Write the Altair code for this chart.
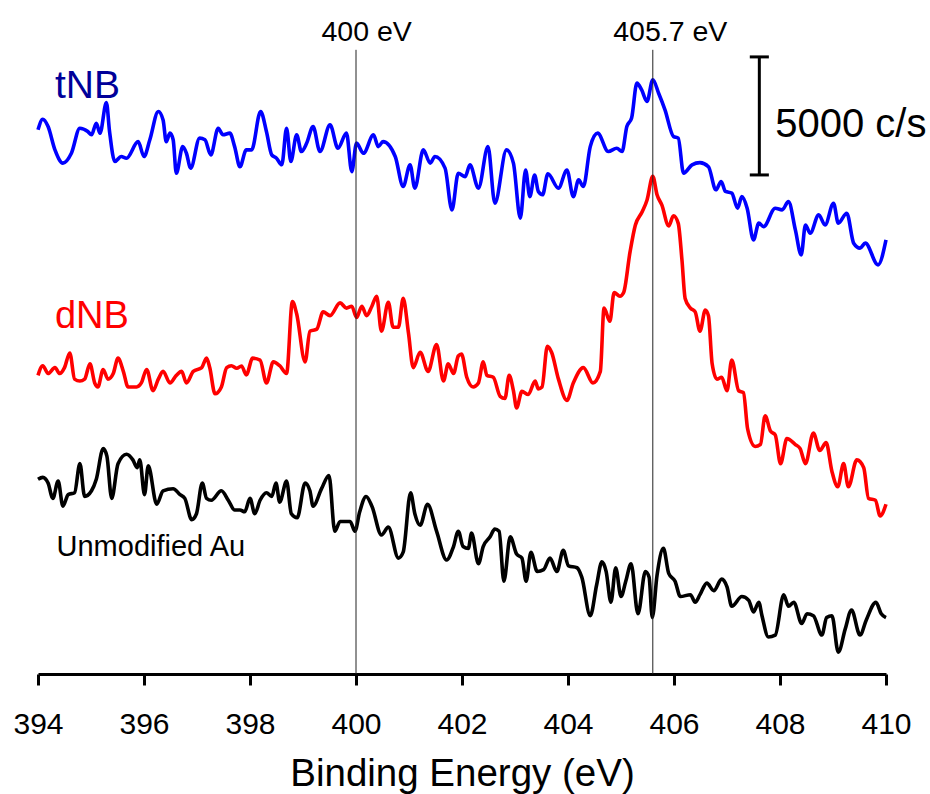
import altair as alt
import pandas as pd

# ---- data (binding energy in eV, intensity in c/s, stacked offsets) ----
tnb_ev = [394.00,394.09,394.19,394.32,394.47,394.63,394.79,394.94,395.01,395.10,
          395.17,395.29,395.35,395.45,395.57,395.67,395.89,396.00,396.11,396.27,
          396.36,396.42,396.49,396.55,396.61,396.73,396.80,396.88,397.05,397.15,
          397.26,397.40,397.49,397.62,397.71,397.81,397.93,398.03,398.20,398.31,
          398.41,398.50,398.60,398.69,398.77,398.88,398.97,399.07,399.19,399.32,
          399.51,399.66,399.82,399.92,400.01,400.14,400.33,400.42,400.51,400.74,
          400.89,401.02,401.11,401.27,401.40,401.49,401.68,401.81,401.93,402.06,
          402.15,402.31,402.49,402.62,402.84,402.97,403.10,403.20,403.28,403.37,
          403.44,403.52,403.62,403.82,403.98,404.10,404.20,404.29,404.42,404.56,
          404.76,404.92,405.02,405.11,405.20,405.30,405.39,405.49,405.60,405.71,
          405.83,405.99,406.08,406.18,406.34,406.49,406.65,406.79,406.89,406.97,
          407.09,407.20,407.28,407.38,407.50,407.60,407.69,407.91,408.04,408.16,
          408.29,408.40,408.48,408.57,408.73,408.85,409.01,409.10,409.26,409.39,
          409.51,409.61,409.85,410.00]
tnb_cps = [23050,23500,23190,22200,21640,22060,23120,22980,22840,23330,
           22910,24210,22980,21710,21920,21850,22550,21920,22630,23830,
           23470,22550,22910,22630,21210,22340,22060,21430,22700,22630,
           21990,23120,22840,22910,22340,21490,22200,22200,23830,22980,
           21990,21850,21570,23120,21710,22840,22130,22490,23190,22130,
           23260,22270,22910,21280,22490,22060,22840,22340,22550,21920,
           20650,21570,20580,22200,21640,21920,21430,19660,21210,21070,
           21570,20580,22340,19940,22200,21640,19310,21350,20220,21140,
           20440,20300,21190,20580,21350,20220,20930,20650,22340,22910,
           22130,22270,22130,23190,23550,25030,24740,24250,25170,24600,
           23900,22770,22700,21210,21570,21660,21490,20510,20860,20440,
           20370,19730,20220,19730,18390,19100,18950,19730,19660,20010,
           18810,17750,19020,18670,19450,19020,19940,19100,19520,18250,
           18040,18250,17330,18390]

dnb_ev = [394.00,394.09,394.19,394.32,394.41,394.50,394.60,394.69,394.79,394.88,
          394.98,395.07,395.13,395.23,395.32,395.42,395.51,395.61,395.70,395.86,
          395.95,396.05,396.17,396.27,396.36,396.49,396.61,396.71,396.80,396.93,
          397.09,397.18,397.24,397.34,397.46,397.56,397.65,397.75,397.84,397.93,
          398.05,398.19,398.31,398.44,398.56,398.69,398.80,398.88,399.04,399.13,
          399.26,399.38,399.51,399.70,399.82,399.92,400.01,400.11,400.20,400.30,
          400.39,400.48,400.61,400.70,400.80,400.89,400.99,401.08,401.21,401.36,
          401.52,401.65,401.74,401.84,401.93,401.99,402.09,402.21,402.31,402.40,
          402.47,402.59,402.72,402.81,402.89,402.97,403.03,403.13,403.25,403.38,
          403.44,403.51,403.61,403.69,403.82,403.98,404.10,404.29,404.47,404.61,
          404.68,404.79,404.87,404.98,405.05,405.17,405.27,405.40,405.49,405.60,
          405.68,405.77,405.90,405.99,406.08,406.15,406.21,406.31,406.40,406.49,
          406.59,406.65,406.72,406.81,406.90,407.00,407.09,407.22,407.31,407.39,
          407.53,407.63,407.72,407.82,407.91,408.01,408.13,408.29,408.38,408.48,
          408.63,408.75,408.87,408.98,409.09,409.20,409.29,409.45,409.58,409.67,
          409.80,409.89,410.00]
dnb_cps = [12650,13060,12730,12980,12730,12980,13600,12490,12410,12490,
           13140,12330,12160,12900,12490,12730,13380,12820,12160,12160,
           12330,12900,12000,12490,12820,12330,12650,12820,12330,12820,
           12980,13380,12980,11870,12160,12980,13060,12950,13050,12670,
           13380,13300,12330,13220,13060,12730,15780,15260,13220,14520,
           14610,15340,15180,15720,15500,15580,15100,15580,15180,15580,
           16000,14520,15750,14690,14690,15910,14440,12980,13630,12820,
           13960,12410,13140,12730,13470,13550,12570,12160,12330,13220,
           12650,12570,11760,11670,12650,12000,11270,11970,11840,12410,
           12080,12160,13880,13630,12490,11590,12330,12980,12330,12820,
           15500,14940,16160,16000,16160,17870,19010,19580,20070,21080,
           20300,19870,18980,19410,19090,17540,15910,15500,15340,14520,
           15420,15180,13140,12490,12570,12000,13300,12000,11920,10370,
           9640,9720,10940,10290,10130,8910,9970,9720,9550,8910,
           10210,9470,9800,8580,7930,8910,7930,9070,8740,7440,
           7360,6700,7190]

au_ev = [394.00,394.09,394.19,394.28,394.38,394.47,394.57,394.69,394.79,394.88,
         395.01,395.10,395.23,395.30,395.39,395.51,395.67,395.79,395.87,395.92,
         396.01,396.08,396.24,396.36,396.55,396.68,396.77,396.90,396.99,397.10,
         397.18,397.27,397.46,397.59,397.71,397.81,397.90,398.00,398.09,398.19,
         398.31,398.41,398.49,398.56,398.69,398.78,398.89,399.04,399.13,399.19,
         399.35,399.49,399.60,399.70,399.89,399.98,400.07,400.19,400.30,400.48,
         400.61,400.80,400.89,401.03,401.11,401.21,401.35,401.52,401.71,401.84,
         401.93,402.02,402.12,402.18,402.31,402.40,402.53,402.62,402.70,402.79,
         402.91,403.03,403.13,403.21,403.30,403.42,403.54,403.66,403.79,403.91,
         404.01,404.17,404.26,404.42,404.54,404.64,404.72,404.81,404.90,405.00,
         405.09,405.19,405.32,405.46,405.53,405.59,405.68,405.80,405.90,406.02,
         406.12,406.31,406.40,406.49,406.62,406.75,406.90,407.00,407.09,407.28,
         407.41,407.50,407.60,407.66,407.78,407.91,408.07,408.16,408.26,408.41,
         408.51,408.63,408.79,408.88,408.98,409.10,409.23,409.35,409.51,409.63,
         409.81,409.91,410.00]
au_cps = [8250,8330,8090,7440,8170,7110,7600,7680,8910,7520,
          7760,8250,9550,9230,7440,8910,9310,9070,8740,9070,
          7600,8820,7190,7760,7850,7600,7440,6540,6790,8090,
          7440,7360,7760,7360,6950,6950,6870,7440,6790,7360,
          7680,7520,8090,7280,8170,6790,6620,8090,7760,7110,
          7850,8410,6050,6460,6460,6050,6870,7520,7110,5890,
          6220,4910,5160,7680,6790,6300,7190,6050,4830,5400,
          6050,5400,5320,5970,4670,5400,5810,6140,6050,3930,
          5810,5080,4910,3930,5160,4340,4420,4910,4340,5240,
          4580,4500,4100,2470,3770,4750,4340,3040,4500,3280,
          3930,4670,2550,4340,4100,2390,4180,5320,4260,3930,
          3280,3360,3040,3360,3850,3530,4020,3690,2870,3280,
          3120,2630,3040,2470,1570,1650,3360,2870,3040,2140,
          2550,2470,1650,2390,2470,920,1900,2710,1650,2300,
          3040,2550,2390]

series_names = ["tNB", "dNB", "Unmodified Au"]
series_colors = ["#0000FF", "#FF0000", "#000000"]

tick_values = [394, 396, 398, 400, 402, 404, 406, 408, 410]

# reference lines (eV) and their labels
peak_ev = [400.0, 405.6]
peak_label = ["400 eV", "405.7 eV"]
peak_label_ev = [400.20, 405.93]

# scale bar: 5000 c/s
bar_ev = 407.61
bar_low = 21140
bar_high = bar_low + 5000

FONT = "Liberation Sans, Arial, Helvetica, sans-serif"

rows = []
for name, evs, cps in zip(series_names, [tnb_ev, dnb_ev, au_ev], [tnb_cps, dnb_cps, au_cps]):
    for e, c in zip(evs, cps):
        rows.append({"series": name, "ev": e, "cps": c})
df = pd.DataFrame(rows)

x_scale = alt.Scale(domain=[394, 410], nice=False, zero=False)
y_scale = alt.Scale(domain=[0, 28000], nice=False, zero=False)

x_axis = alt.Axis(
    values=tick_values, format="d", grid=False,
    domainColor="black", domainWidth=3,
    tickColor="black", tickWidth=3, tickSize=11,
    labelFont=FONT, labelFontSize=30, labelColor="black", labelPadding=24,
    labelFlush=False, labelOverlap=False,
    titleFont=FONT, titleFontSize=38.5, titleFontWeight="normal", titleColor="black",
    titleY=111, titleBaseline="alphabetic",
)
X = alt.X("ev:Q", scale=x_scale, axis=x_axis, title="Binding Energy (eV)")
Y = alt.Y("cps:Q", scale=y_scale, axis=None)

lines = alt.Chart(df).mark_line(strokeWidth=3.6, interpolate="monotone", strokeJoin="round").encode(
    x=X, y=Y,
    color=alt.Color("series:N", scale=alt.Scale(domain=series_names, range=series_colors), legend=None),
)

peaks_df = pd.DataFrame({"ev": peak_ev, "cps": [0, 0], "cps2": [26440, 26440]})
peak_rules = alt.Chart(peaks_df).mark_rule(color="#222222", strokeWidth=1).encode(
    x=X, y=Y, y2="cps2:Q"
)

peak_text_df = pd.DataFrame({"ev": peak_label_ev, "cps": [27200, 27200], "label": peak_label})
peak_text = alt.Chart(peak_text_df).mark_text(
    font=FONT, fontSize=28.5, color="black", align="center", baseline="middle"
).encode(x=X, y=Y, text="label:N")

bar_df = pd.DataFrame({"ev": [bar_ev], "cps": [bar_low], "cps2": [bar_high]})
bar_rule = alt.Chart(bar_df).mark_rule(color="black", strokeWidth=3).encode(x=X, y=Y, y2="cps2:Q")

caps_df = pd.DataFrame({"ev": [bar_ev - 0.18, bar_ev - 0.18], "ev2": [bar_ev + 0.18, bar_ev + 0.18],
                        "cps": [bar_low, bar_high]})
bar_caps = alt.Chart(caps_df).mark_rule(color="black", strokeWidth=3).encode(x=X, x2="ev2:Q", y=Y)

bar_text_df = pd.DataFrame({"ev": [407.91], "cps": [23250], "label": ["5000 c/s"]})
bar_text = alt.Chart(bar_text_df).mark_text(
    font=FONT, fontSize=40, color="black", align="left", baseline="middle"
).encode(x=X, y=Y, text="label:N")

lab_tnb = alt.Chart(pd.DataFrame({"ev": [394.32], "cps": [24900], "label": ["tNB"]})).mark_text(
    font=FONT, fontSize=39, color="#000099", align="left", baseline="middle"
).encode(x=X, y=Y, text="label:N")

lab_dnb = alt.Chart(pd.DataFrame({"ev": [394.32], "cps": [15110], "label": ["dNB"]})).mark_text(
    font=FONT, fontSize=38, color="#FF0000", align="left", baseline="middle"
).encode(x=X, y=Y, text="label:N")

lab_au = alt.Chart(pd.DataFrame({"ev": [394.35], "cps": [5400], "label": ["Unmodified Au"]})).mark_text(
    font=FONT, fontSize=29, color="black", align="left", baseline="middle"
).encode(x=X, y=Y, text="label:N")

chart = alt.layer(
    lines, peak_rules, peak_text, bar_rule, bar_caps, bar_text, lab_tnb, lab_dnb, lab_au
).properties(
    width=848, height=661,
    autosize=alt.AutoSizeParams(type="none"),
    padding={"left": 38, "top": 13, "right": 44, "bottom": 120},
    background="white",
).configure_view(stroke="transparent")

chart.save("out.html", embed_options={"renderer": "svg", "actions": False})
